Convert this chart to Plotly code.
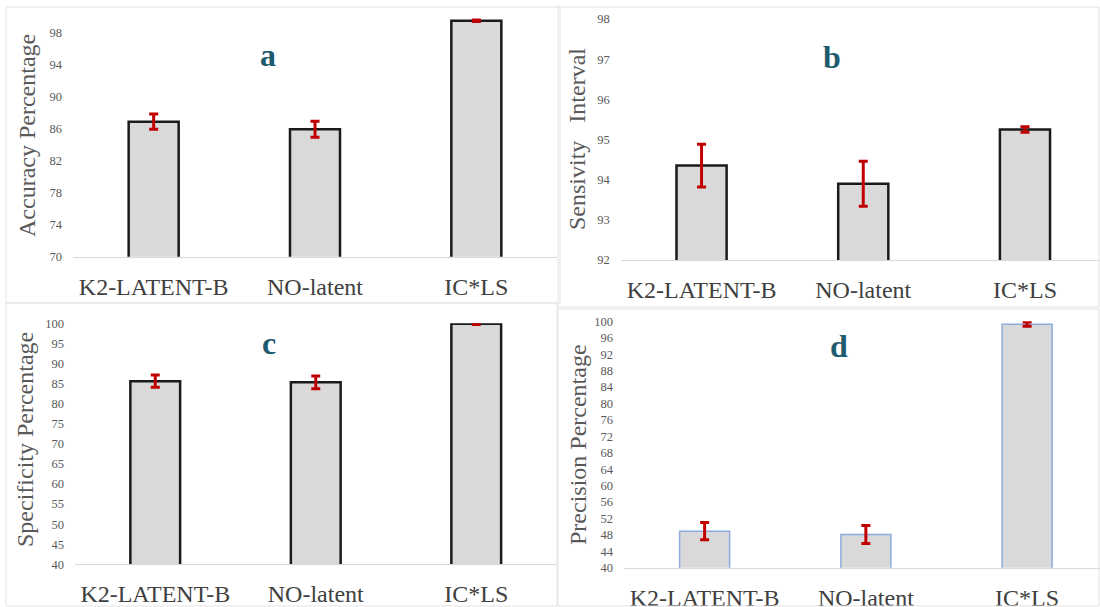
import plotly.graph_objects as go

W, H = 1100, 607

categories = ["K2-LATENT-B", "NO-latent", "IC*LS"]

accuracy = [86.85, 85.9, 99.45]
accuracy_err = [0.95, 1.0, 0.1]

sensitivity = [94.35, 93.9, 95.25]
sensitivity_err = [0.53, 0.56, 0.07]

specificity = [85.6, 85.3, 99.9]
specificity_err = [1.5, 1.6, 0.2]

precision = [48.9, 48.1, 99.3]
precision_err = [2.1, 2.2, 0.5]

acc_ticks = [70, 74, 78, 82, 86, 90, 94, 98]
sens_ticks = [92, 93, 94, 95, 96, 97, 98]
spec_ticks = [40, 45, 50, 55, 60, 65, 70, 75, 80, 85, 90, 95, 100]
prec_ticks = [40, 44, 48, 52, 56, 60, 64, 68, 72, 76, 80, 84, 88, 92, 96, 100]

panel_titles = ["Accuracy Percentage", "Sensivity\u00a0\u00a0\u00a0Interval",
                "Specificity Percentage", "Precision Percentage"]
panel_letters = ["a", "b", "c", "d"]

SERIF = "Liberation Serif"
FILL = "#d9d9d9"
ERR = "#c00000"


def px(x):
    return x / W


def py(y):
    return 1 - y / H


panels = [
    dict(v=accuracy, e=accuracy_err, t=acc_ticks, yr=[70, 100],
         xd=(73, 557), yd=(256.7, 16.3), xe=2.5, lc="#1a1a1a", lw=2.5),
    dict(v=sensitivity, e=sensitivity_err, t=sens_ticks, yr=[92, 98],
         xd=(620.7, 1100), yd=(260, 19), xe=2.464, lc="#1a1a1a", lw=2.5),
    dict(v=specificity, e=specificity_err, t=spec_ticks, yr=[40, 100],
         xd=(75, 556.5), yd=(564.3, 323.3), xe=2.5, lc="#1a1a1a", lw=2.5),
    dict(v=precision, e=precision_err, t=prec_ticks, yr=[40, 100],
         xd=(624, 1100), yd=(567.7, 321.3), xe=2.452, lc="#8eaadb", lw=1.5),
]

fig = go.Figure()
layout = {}
for i, p in enumerate(panels):
    n = "" if i == 0 else str(i + 1)
    fig.add_trace(go.Bar(
        x=categories, y=p["v"], width=0.31,
        marker=dict(color=FILL, line=dict(color=p["lc"], width=p["lw"])),
        error_y=dict(type="data", array=p["e"], visible=True,
                     color=ERR, thickness=3, width=4.5),
        xaxis="x" + n, yaxis="y" + n, showlegend=False,
    ))
    layout["xaxis" + n] = dict(
        domain=[px(p["xd"][0]), px(p["xd"][1])], anchor="y" + n,
        range=[-0.5, p["xe"]], showline=True, linecolor="#d9d9d9", linewidth=1,
        showgrid=False, zeroline=False, ticks="", automargin=False,
        tickfont=dict(family=SERIF, size=24, color="#404040"),
        ticklabelstandoff=8, fixedrange=True,
    )
    layout["yaxis" + n] = dict(
        domain=[py(p["yd"][0]), py(p["yd"][1])], anchor="x" + n,
        range=p["yr"], tickvals=p["t"], showline=False, showgrid=False,
        zeroline=False, ticks="", automargin=False,
        tickfont=dict(family=SERIF, size=12.5, color="#595959"),
        ticklabelstandoff=10, fixedrange=True,
    )

fig.update_layout(**layout)

title_pos = [(27, 136), (577.5, 139.5), (25, 440), (578, 445)]
letter_pos = [(268, 55), (832, 57), (269, 343), (839, 346)]
anns = []
for t, (x, y) in zip(panel_titles, title_pos):
    anns.append(dict(text=t, x=px(x), y=py(y), xref="paper", yref="paper",
                     showarrow=False, textangle=-90,
                     font=dict(family=SERIF, size=24, color="#595959"),
                     xanchor="center", yanchor="middle"))
for t, (x, y) in zip(panel_letters, letter_pos):
    anns.append(dict(text="<b>" + t + "</b>", x=px(x), y=py(y), xref="paper",
                     yref="paper", showarrow=False,
                     font=dict(family=SERIF, size=32, color="#1f5b6e"),
                     xanchor="center", yanchor="middle"))

border = "#e3e3e3"
shapes = [
    dict(type="rect", xref="paper", yref="paper", x0=px(6), x1=px(560),
         y0=py(303), y1=py(7), line=dict(color=border, width=1)),
    dict(type="rect", xref="paper", yref="paper", x0=px(558), x1=px(1099),
         y0=py(307), y1=py(7), line=dict(color=border, width=1)),
    dict(type="rect", xref="paper", yref="paper", x0=px(6), x1=px(557),
         y0=py(606), y1=py(303), line=dict(color=border, width=1)),
    dict(type="rect", xref="paper", yref="paper", x0=px(558), x1=px(1099),
         y0=py(606), y1=py(309), line=dict(color=border, width=1)),
]

fig.update_layout(
    width=W, height=H, margin=dict(l=0, r=0, t=0, b=0, autoexpand=False),
    paper_bgcolor="white", plot_bgcolor="white",
    font=dict(family=SERIF, color="#595959"),
    annotations=anns, shapes=shapes, bargap=0.2,
)

fig.write_html(
    "out.html",
    config={"displayModeBar": False},
    post_script="document.body.style.margin='0';document.body.style.overflow='hidden';",
)
